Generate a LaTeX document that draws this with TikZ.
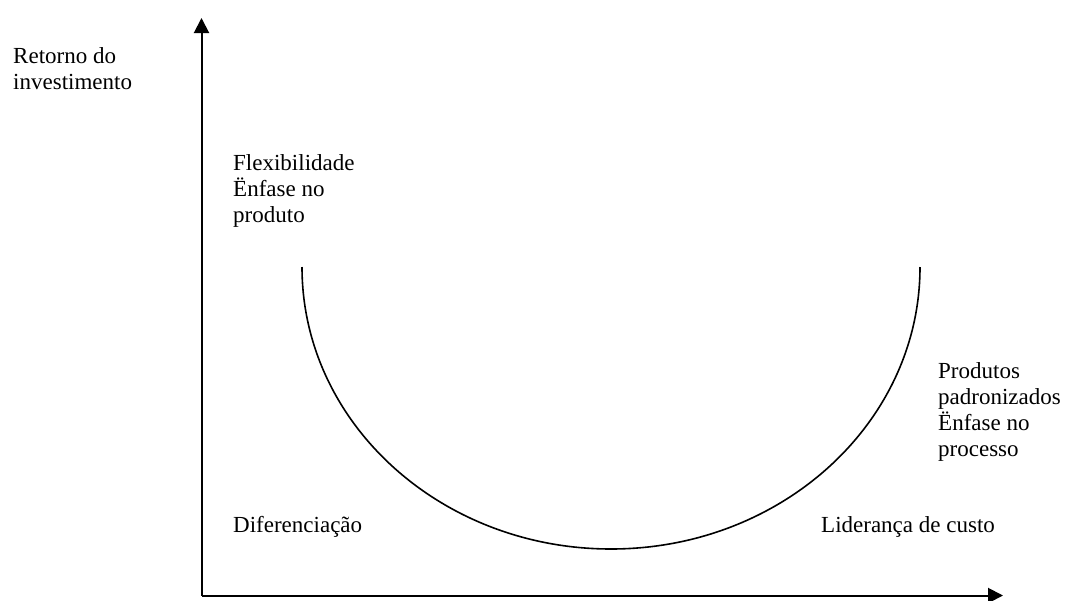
\documentclass[tikz,border=0pt]{standalone}
\usepackage{fontspec}
\setmainfont{Liberation Serif}
\usetikzlibrary{arrows.meta}
\begin{document}
\begin{tikzpicture}[x=1pt,y=-1pt,
  lbl/.style={inner sep=0pt,anchor=base west,align=left,font=\fontsize{23}{26}\selectfont},
  axis/.style={line width=2pt,-{Triangle[length=15pt,width=15pt]}},
  curve/.style={line width=1.6pt}]
\useasboundingbox (0,0) rectangle (1066,600);
\coordinate (O) at (201.5,595.5);
\coordinate (Ytip) at (201.5,18);
\coordinate (Xtip) at (1003,595.5);
\draw[axis] (O) -- (Ytip);
\draw[axis] (O) -- (Xtip);
\coordinate (cl) at (302,267);
\coordinate (cr) at (920,267);
\draw[curve] (cl) arc[start angle=180,end angle=360,x radius=309,y radius=-282];
\node[lbl] (ret) at (13,89) {Retorno do\\investimento};
\node[lbl] (flex) at (233,222) {Flexibilidade\\Ënfase no\\produto};
\node[lbl] (prod) at (938,456) {Produtos\\padronizados\\Ënfase no\\processo};
\node[lbl] (dif) at (233,532) {Diferenciação};
\node[lbl] (lid) at (821,532) {Liderança de custo};
\end{tikzpicture}
\end{document}
